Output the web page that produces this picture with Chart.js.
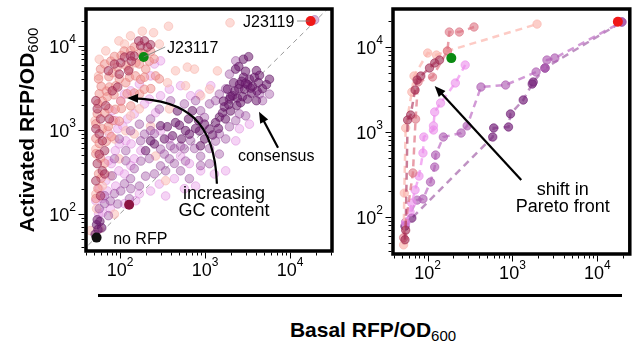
<!DOCTYPE html>
<html>
<head>
<meta charset="utf-8">
<script src="https://cdn.jsdelivr.net/npm/chart.js@4.4.1/dist/chart.umd.min.js"></script>
<style>
html, body { margin: 0; padding: 0; background: #fff; }
body { width: 635px; height: 346px; position: relative; overflow: hidden; font-family: "Liberation Sans", Arial, sans-serif; }
#left { position: absolute; left: 0; top: 0; }
#right { position: absolute; left: 345px; top: 0; }
#rule { position: absolute; left: 98px; top: 293.5px; width: 524px; height: 3px; background: #000; }
#xtitle { position: absolute; left: 0; width: 746px; top: 318px; text-align: center; font-weight: bold; font-size: 21px; line-height: 24px; color: #000; }
#xtitle span { position: relative; top: 4px; font-weight: normal; font-size: 15px; }
</style>
</head>
<body>
<canvas id="left" width="345" height="300"></canvas>
<canvas id="right" width="290" height="300"></canvas>
<div id="rule"></div>
<div id="xtitle">Basal RFP/OD<span>600</span></div>
<script>
document.addEventListener("DOMContentLoaded", () => {

const FONT = '"Liberation Sans", Arial, sans-serif';

/* AXES */

const decades = [10, 100, 1000, 10000];
const majorTicks = [100, 1000, 10000];
const tickExponents = ["2", "3", "4"];

/* LEFT PANEL: all promoters, [basal, activated] */

const darkPurple = [
    [1330,1220],[1480,1420],[1610,1600],[1690,1880],[1900,2000],[1940,2330],[2110,2560],[2230,2890],
    [2500,3100],[2550,3500],[2760,2490],[2920,3050],[3170,3460],[3330,4020],[3620,3290],[3820,4230],
    [4250,3660],[4380,4470],[4740,3100],[3160,2330],[2370,1950],[2840,4240],[3510,2740],[2620,2110],
    [2000,1680],[1740,1350],[1440,1040],[1130,1020],[1230,870],[4030,5080],[3000,5000],[2500,5680],
    [2830,6950],[3260,7450],[2290,5300],[5280,3460],[5730,4020],[2170,3650],[1840,3060],[4020,2230],
    [2700,3800],[3450,3150],[2400,2400],[4100,2900],[3000,3600],[2000,2500],[1650,2200],
    [300,1120],[360,1090],[450,1220],[500,1140],[590,980],[655,890],[775,1040],[860,970],
    [840,1290],[985,1170],[640,1350],[530,780],[415,850],[333,780],[229,740],[254,680],
    [200,565],[885,645],[990,780],[710,1690],[474,1680],
    [53,74],[55,65],[58,81],[51,57],[61,68],[54,85]
];

const midPurple = [
    [175,740],[194,890],[229,980],[254,900],[300,590],[332,515],[394,645],[436,595],[516,640],
    [572,595],[678,740],[752,600],[888,485],[1130,600],[1330,735],[1475,895],[1750,780],[1940,1090],
    [2300,1290],[2540,1550],[590,425],[436,398],[300,372],[221,455],[176,425],[147,345],[133,262],
    [113,228],[102,187],[86,174],[77,142],[66,132],[134,199],[169,214],[200,281],[254,299],[344,325],
    [381,452],[888,1690],[1130,2040],[1330,2230],[1475,2670],[1750,3090],[985,1410],[775,2230],
    [572,2040],[394,2220],[290,1770],[229,1350],[169,1170],[133,975],[98,780],[117,565],[86,452],
    [81,283],[94,131],[73,95],[57,115],[66,164],[129,151],[117,428],[1940,4620],[2300,6650],
    [4380,2670],[4750,2230],[5730,2670],[3010,1470],[1475,515],[888,375],[655,262],[516,325],
    [1130,395],[19500,20500]
];

const violet = [
    [88,565],[98,680],[117,740],[94,1030],[108,1110],[122,1350],[88,1290],[75,895],[81,1690],
    [73,428],[79,396],[97,325],[113,298],[134,375],[147,452],[176,565],[135,680],[68,247],[57,199],
    [52,143],[62,152],[71,187],[89,214],[56,100],[62,103],[77,115],[221,2330],[300,2550],[381,3060],
    [516,3360],[194,2040],[262,1600],[147,1550],[300,975],[381,780],[516,488],[655,396],[888,325],
    [1290,298],[1750,325],[153,143],[113,132],[169,173],[229,187],[290,226],[344,163],[436,262],
    [775,214],[572,199],[102,2220],[113,2670],[134,2920],[169,3520],[229,4400],[254,6100],[300,6650],
    [860,2670],[1170,3360],[678,2550],[2540,1030],[2300,740],[3330,1170]
];

const salmon = [
    [59,5300],[66,6100],[78,6600],[86,7500],[103,7700],[112,8700],[134,8800],[147,9700],[176,8300],
    [192,8000],[230,8600],[56,4050],[60,3300],[74,4300],[82,4800],[93,5600],[118,5800],[128,5300],
    [154,6300],[169,6100],[201,5300],[221,6600],[57,2700],[69,2900],[75,3250],[89,3350],[98,4050],
    [117,3650],[129,4250],[152,4400],[175,4000],[194,4250],[55,2050],[62,2200],[71,2480],[85,2620],
    [102,2200],[121,2700],[147,2750],[170,2680],[54,1560],[66,1590],[74,1790],[88,1760],[104,1800],
    [134,1930],[52,1180],[62,1030],[73,1100],[83,1290],[98,1270],[52,790],[57,690],[69,730],[79,830],
    [52,520],[59,460],[66,400],[56,300],[60,265],[55,200],[52,152],[262,4400],[290,4050],[230,3100],
    [193,3050],[252,7000]
];

const darkRose = [
    [52,2230],[54,1780],[59,1350],[52,1030],[57,895],[66,565],[54,396],[62,325],[66,298],[52,247],
    [59,164],[73,5060],[86,6100],[102,6300],[113,7380],[133,7620],[147,7580],[175,10050],[194,11500],
    [229,10350],[210,9700],[166,11480],[81,2920],[94,3240],[68,1940],[75,1350],[62,740],[57,512],
    [98,4620],[126,5060],[136,6600]
];

const palePink = [
    [1970,18900],[372,17200],[183,15000],[248,14400],[620,5600],[1400,5050],[890,2550],[1130,3060],
    [362,3650],[344,248],[52,172],[53,115],[62,214],[57,66],[71,975],[86,780],[117,975],[98,452],
    [133,1470],[169,1780],[229,1110],[147,895],[262,488],[381,1780],[590,3360],[752,5300],[450,5060],
    [290,10550],[133,13200],[97,11500],[113,10550],[68,8750],[57,6950],[56,4400],[51,1290],[52,590],
    [77,283],[86,99],[45,63]
];

const noRFP = [[53, 52]];
const highGC = [[128, 128]];
const j23117 = [[190, 7400]];
const j23119 = [[17500, 19800]];
const diagonal = [[30, 30], [40000, 40000]];

/* RIGHT PANEL: Pareto fronts per GC bin */

const frontPale = [[52,47],[53,191],[55,1115],[65,2950],[69,4560],[100,8500],[127,8050],[171,8970],[1950,18600]];
const frontRose = [[52,57],[67,330],[72,1420],[77,3870],[114,4440],[171,8970],[180,15000],[236,15000],[352,17200]];
const frontDarkRose = [[54,54],[55,70],[58,1385],[63,1585],[71,3120],[75,4090],[83,4560],[105,5660],[121,6490],[138,7030]];
const frontViolet = [[55,85],[62,115],[65,146],[71,208],[79,303],[88,566],[90,873],[117,1055],[117,1180],[121,1720],[142,2190],[212,3770],[277,6140]];
const frontPurple = [[55,87],[75,158],[88,163],[108,258],[121,387],[124,536],[153,873],[248,973],[292,1180],[425,3380],[830,3570],[1900,5080],[2420,5660],[2550,7030],[3160,7420],[19500,19700]];
const frontDarkPurple = [[54,78],[65,97],[585,873],[601,1115],[898,1146],[948,1630],[1340,2380],[1710,3670],[1755,3870],[2420,5660],[19500,19700]];

const toXY = a => a.map(p => ({ x: p[0], y: p[1] }));

/* PLUGINS */

function drawArrowHead(ctx, x0, y0, x1, y1) {
    const ang = Math.atan2(y1 - y0, x1 - x0);
    const L = 11, W = 4.5;
    ctx.beginPath();
    ctx.moveTo(x1, y1);
    ctx.lineTo(x1 - L * Math.cos(ang) + W * Math.sin(ang), y1 - L * Math.sin(ang) - W * Math.cos(ang));
    ctx.lineTo(x1 - L * Math.cos(ang) - W * Math.sin(ang), y1 - L * Math.sin(ang) + W * Math.cos(ang));
    ctx.closePath();
    ctx.fill();
}

const axesPlugin = {
    id: "axes",
    afterDraw(chart, args, opts) {
        const { ctx, chartArea: a } = chart;
        const xs = chart.scales.x, ys = chart.scales.y;
        ctx.save();

        /* ticks */
        ctx.strokeStyle = "#000";
        ctx.lineWidth = 1;
        decades.forEach(d => {
            for (let m = 1; m < 10; m++) {
                const v = m * d;
                const len = m === 1 ? 6 : 3;
                const px = Math.round(xs.getPixelForValue(v)) + 0.5;
                if (px >= a.left && px <= a.right) {
                    ctx.beginPath();
                    ctx.moveTo(px, a.bottom + 1.5);
                    ctx.lineTo(px, a.bottom + 1.5 + len);
                    ctx.stroke();
                }
                const py = Math.round(ys.getPixelForValue(v)) + 0.5;
                if (py >= a.top && py <= a.bottom) {
                    ctx.beginPath();
                    ctx.moveTo(a.left - 1.5, py);
                    ctx.lineTo(a.left - 1.5 - len, py);
                    ctx.stroke();
                }
            }
        });

        /* frame */
        ctx.lineWidth = 3.5;
        ctx.strokeRect(a.left, a.top, a.right - a.left, a.bottom - a.top);

        /* tick labels */
        ctx.fillStyle = "#000";
        ctx.textBaseline = "alphabetic";
        ctx.textAlign = "left";
        majorTicks.forEach((v, i) => {
            const e = tickExponents[i];
            ctx.font = "18px " + FONT;
            const w1 = ctx.measureText("10").width;
            ctx.font = "12px " + FONT;
            const w2 = ctx.measureText(e).width;

            const px = xs.getPixelForValue(v);
            const sx = px - (w1 + w2) / 2;
            ctx.font = "18px " + FONT;
            ctx.fillText("10", sx, a.bottom + 25);
            ctx.font = "12px " + FONT;
            ctx.fillText(e, sx + w1, a.bottom + 15);

            const py = ys.getPixelForValue(v);
            const ex = a.left - 10 - w2;
            ctx.font = "18px " + FONT;
            ctx.fillText("10", ex - w1, py + 7);
            ctx.font = "12px " + FONT;
            ctx.fillText(e, ex, py - 3);
        });

        /* y title */
        if (opts.yTitle) {
            ctx.translate(34, 130);
            ctx.rotate(-Math.PI / 2);
            ctx.font = "bold 21px " + FONT;
            const w1 = ctx.measureText(opts.yTitle).width;
            ctx.font = "15px " + FONT;
            const w2 = ctx.measureText(opts.ySub).width;
            const s = -(w1 + w2) / 2;
            ctx.font = "bold 21px " + FONT;
            ctx.fillText(opts.yTitle, s, 0);
            ctx.font = "15px " + FONT;
            ctx.fillText(opts.ySub, s + w1, 4);
        }
        ctx.restore();
    }
};

const notePlugin = {
    id: "notes",
    afterDatasetsDraw(chart, args, opts) {
        const { ctx } = chart;
        const xs = chart.scales.x, ys = chart.scales.y;
        const P = p => [xs.getPixelForValue(p[0]), ys.getPixelForValue(p[1])];
        ctx.save();

        (opts.leaders || []).forEach(l => {
            const a = P(l[0]), b = P(l[1]);
            ctx.strokeStyle = "#777";
            ctx.lineWidth = 0.8;
            ctx.beginPath();
            ctx.moveTo(a[0], a[1]);
            ctx.lineTo(b[0], b[1]);
            ctx.stroke();
        });

        ctx.strokeStyle = "#000";
        ctx.fillStyle = "#000";
        ctx.lineWidth = 2.2;
        (opts.arrows || []).forEach(ar => {
            const pts = ar.map(P);
            ctx.beginPath();
            ctx.moveTo(pts[0][0], pts[0][1]);
            if (pts.length === 4) {
                ctx.bezierCurveTo(pts[1][0], pts[1][1], pts[2][0], pts[2][1], pts[3][0] + 6, pts[3][1] + 0.3);
            } else {
                const n = pts.length - 1;
                const dx = pts[n][0] - pts[n - 1][0], dy = pts[n][1] - pts[n - 1][1];
                const d = Math.hypot(dx, dy);
                ctx.lineTo(pts[n][0] - dx / d * 6, pts[n][1] - dy / d * 6);
            }
            ctx.stroke();
            const n = pts.length - 1;
            drawArrowHead(ctx, pts[n - 1][0], pts[n - 1][1], pts[n][0], pts[n][1]);
        });

        ctx.textBaseline = "middle";
        (opts.texts || []).forEach(t => {
            const p = P([t.x, t.y]);
            ctx.font = t.size + "px " + FONT;
            ctx.textAlign = t.align;
            ctx.fillText(t.t, p[0], p[1]);
        });
        ctx.restore();
    }
};

/* CHARTS */

function cloud(label, data, bg, border) {
    return {
        label: label,
        data: toXY(data),
        backgroundColor: bg,
        borderColor: border,
        borderWidth: 1,
        pointRadius: 4.3
    };
}

function front(label, data, line, point) {
    return {
        label: label,
        data: toXY(data),
        showLine: true,
        borderColor: line,
        borderWidth: 2.5,
        borderDash: [7, 5],
        pointBackgroundColor: point,
        pointBorderColor: point,
        pointBorderWidth: 1,
        pointRadius: 4.2
    };
}

function special(label, data, color) {
    return { label: label, data: toXY(data), backgroundColor: color, borderColor: color, borderWidth: 0, pointRadius: 5 };
}

function logAxis(min, max) {
    return { type: "logarithmic", min: min, max: max, display: false };
}

new Chart(document.getElementById("left"), {
    type: "scatter",
    data: {
        datasets: [
            special("J23119", j23119, "#f01818"),
            special("J23117", j23117, "#0b8a12"),
            special("high GC", highGC, "#8c1442"),
            special("no RFP", noRFP, "#101010"),
            cloud("dark rose", darkRose, "rgba(168,45,88,0.5)", "rgba(150,35,75,0.55)"),
            cloud("salmon", salmon, "rgba(240,140,135,0.5)", "rgba(225,120,118,0.5)"),
            cloud("dark purple", darkPurple, "rgba(108,26,110,0.55)", "rgba(95,20,98,0.55)"),
            cloud("purple", midPurple, "rgba(160,82,165,0.42)", "rgba(145,70,150,0.45)"),
            cloud("pale", palePink, "rgba(252,195,188,0.6)", "rgba(245,180,172,0.55)"),
            cloud("violet", violet, "rgba(232,150,232,0.42)", "rgba(215,130,215,0.45)"),
            {
                label: "y = x",
                data: toXY(diagonal),
                showLine: true,
                borderColor: "#999",
                borderWidth: 1,
                borderDash: [5, 4],
                pointRadius: 0
            }
        ]
    },
    options: {
        responsive: false,
        animation: false,
        events: [],
        layout: { padding: { left: 86, top: 9, right: 13, bottom: 49 } },
        scales: { x: logAxis(39.8, 31200), y: logAxis(36, 27600) },
        plugins: {
            legend: { display: false },
            tooltip: { enabled: false },
            axes: { yTitle: "Activated RFP/OD", ySub: "600" },
            notes: {
                leaders: [[[190, 7400], [340, 9730]], [[12100, 19850], [17000, 19850]]],
                arrows: [
                    [[7230, 611], [4320, 1640]],
                    [[1380, 228], [1310, 1320], [581, 2280], [121, 2400]]
                ],
                texts: [
                    { t: "J23119", x: 2800, y: 18800, align: "left", size: 16 },
                    { t: "J23117", x: 357, y: 9210, align: "left", size: 16 },
                    { t: "consensus", x: 2440, y: 477, align: "left", size: 16 },
                    { t: "increasing", x: 1675, y: 173, align: "center", size: 18 },
                    { t: "GC content", x: 1675, y: 109, align: "center", size: 18 },
                    { t: "no RFP", x: 83, y: 49, align: "left", size: 16 }
                ]
            }
        }
    },
    plugins: [axesPlugin, notePlugin]
});

new Chart(document.getElementById("right"), {
    type: "scatter",
    data: {
        datasets: [
            special("J23119", j23119, "#f01818"),
            special("J23117", j23117, "#0b8a12"),
            front("GC 1", frontDarkRose, "rgba(175,55,95,0.65)", "rgba(160,40,80,0.6)"),
            front("GC 2", frontRose, "rgba(225,125,140,0.75)", "rgba(220,115,130,0.6)"),
            front("GC 3", frontPale, "rgba(252,190,182,0.8)", "rgba(250,180,172,0.65)"),
            front("GC 4", frontViolet, "rgba(240,155,240,0.8)", "rgba(235,140,235,0.6)"),
            front("GC 5", frontPurple, "rgba(195,120,200,0.75)", "rgba(175,95,180,0.65)"),
            front("GC 6", frontDarkPurple, "rgba(170,110,175,0.75)", "rgba(120,40,125,0.7)")
        ]
    },
    options: {
        responsive: false,
        animation: false,
        events: [],
        layout: { padding: { left: 48, top: 9, right: 2, bottom: 46 } },
        scales: { x: logAxis(39, 24200), y: logAxis(36.7, 28000) },
        plugins: {
            legend: { display: false },
            tooltip: { enabled: false },
            axes: {},
            notes: {
                arrows: [[[1270, 272], [121, 3480]]],
                texts: [
                    { t: "shift in", x: 3920, y: 208, align: "center", size: 18 },
                    { t: "Pareto front", x: 3920, y: 131, align: "center", size: 18 }
                ]
            }
        }
    },
    plugins: [axesPlugin, notePlugin]
});

});
</script>
</body>
</html>
